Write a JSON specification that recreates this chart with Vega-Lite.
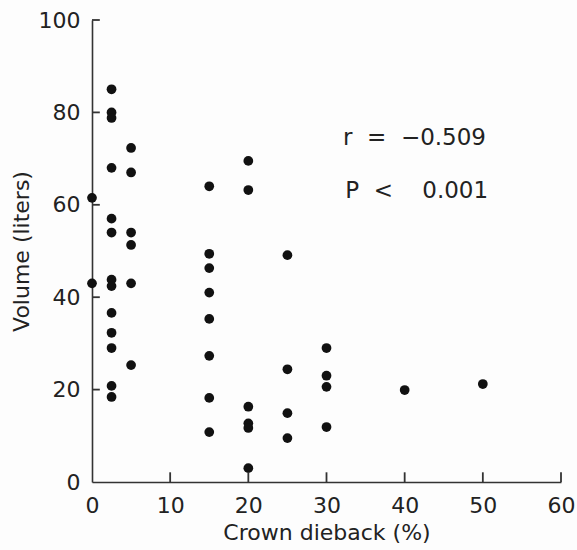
{
  "$schema": "https://vega.github.io/schema/vega-lite/v6.json",
  "width": 469,
  "height": 462,
  "autosize": {"type": "none"},
  "padding": {"left": 92, "top": 20, "right": 16, "bottom": 68},
  "background": "#fdfdfd",
  "config": {
    "view": {"stroke": null},
    "axis": {
      "domainColor": "#333",
      "domainWidth": 1.6,
      "ticks": false,
      "labelFont": "DejaVu Sans",
      "labelFontSize": 22,
      "labelColor": "#222",
      "labelFlush": false,
      "labelOverlap": false,
      "titleFont": "DejaVu Sans",
      "titleFontSize": 22,
      "titleFontWeight": "normal",
      "titleColor": "#222",
      "grid": false
    }
  },
  "layer": [
    {
      "data": {
        "values": [
          {"dieback": 0, "volume": 61.5},
          {"dieback": 0, "volume": 43},
          {"dieback": 2.5, "volume": 85},
          {"dieback": 2.5, "volume": 80},
          {"dieback": 2.5, "volume": 78.8},
          {"dieback": 2.5, "volume": 68},
          {"dieback": 2.5, "volume": 57},
          {"dieback": 2.5, "volume": 54},
          {"dieback": 2.5, "volume": 43.8},
          {"dieback": 2.5, "volume": 42.4},
          {"dieback": 2.5, "volume": 36.6},
          {"dieback": 2.5, "volume": 32.3},
          {"dieback": 2.5, "volume": 29},
          {"dieback": 2.5, "volume": 20.8},
          {"dieback": 2.5, "volume": 18.4},
          {"dieback": 5, "volume": 72.3},
          {"dieback": 5, "volume": 67},
          {"dieback": 5, "volume": 54},
          {"dieback": 5, "volume": 51.3},
          {"dieback": 5, "volume": 43},
          {"dieback": 5, "volume": 25.3},
          {"dieback": 15, "volume": 64},
          {"dieback": 15, "volume": 49.4},
          {"dieback": 15, "volume": 46.3},
          {"dieback": 15, "volume": 41},
          {"dieback": 15, "volume": 35.3},
          {"dieback": 15, "volume": 27.3},
          {"dieback": 15, "volume": 18.2},
          {"dieback": 15, "volume": 10.8},
          {"dieback": 20, "volume": 69.5},
          {"dieback": 20, "volume": 63.2},
          {"dieback": 20, "volume": 16.3},
          {"dieback": 20, "volume": 12.7},
          {"dieback": 20, "volume": 11.7},
          {"dieback": 20, "volume": 3},
          {"dieback": 25, "volume": 49.1},
          {"dieback": 25, "volume": 24.4},
          {"dieback": 25, "volume": 14.9},
          {"dieback": 25, "volume": 9.5},
          {"dieback": 30, "volume": 29},
          {"dieback": 30, "volume": 23},
          {"dieback": 30, "volume": 20.6},
          {"dieback": 30, "volume": 11.9},
          {"dieback": 40, "volume": 19.9},
          {"dieback": 50, "volume": 21.2}
        ]
      },
      "mark": {"type": "point", "filled": true, "size": 95, "color": "#111", "opacity": 1},
      "encoding": {
        "x": {
          "field": "dieback", "type": "quantitative",
          "scale": {"domain": [0, 60], "nice": false, "zero": true},
          "axis": {"values": [0, 10, 20, 30, 40, 50, 60], "title": "Crown dieback (%)", "labelPadding": 13, "titlePadding": 6}
        },
        "y": {
          "field": "volume", "type": "quantitative",
          "scale": {"domain": [0, 100], "nice": false},
          "axis": {"values": [0, 20, 40, 60, 80, 100], "title": "Volume (liters)", "labelPadding": 12, "titlePadding": 5}
        }
      }
    },
    {
      "data": {"values": [{"volume": 20}, {"volume": 40}, {"volume": 60}, {"volume": 80}, {"volume": 100}]},
      "mark": {"type": "rule", "color": "#333", "strokeWidth": 1.8},
      "encoding": {
        "y": {"field": "volume", "type": "quantitative"},
        "x": {"datum": 0},
        "x2": {"datum": 1}
      }
    },
    {
      "data": {"values": [{"dieback": 10}, {"dieback": 20}, {"dieback": 30}, {"dieback": 40}, {"dieback": 50}, {"dieback": 60}]},
      "mark": {"type": "rule", "color": "#333", "strokeWidth": 1.8},
      "encoding": {
        "x": {"field": "dieback", "type": "quantitative"},
        "y": {"datum": 0},
        "y2": {"datum": 2.1}
      }
    },
    {
      "data": {
        "values": [
          {"dieback": 32.1, "volume": 74.5, "label": "r\u00a0 = \u00a0−0.509"},
          {"dieback": 32.4, "volume": 63, "label": "P\u00a0 <\u00a0 \u00a0 0.001"}
        ]
      },
      "mark": {"type": "text", "align": "left", "baseline": "middle", "font": "DejaVu Sans", "fontSize": 23, "color": "#222"},
      "encoding": {
        "x": {"field": "dieback", "type": "quantitative"},
        "y": {"field": "volume", "type": "quantitative"},
        "text": {"field": "label"}
      }
    }
  ]
}
